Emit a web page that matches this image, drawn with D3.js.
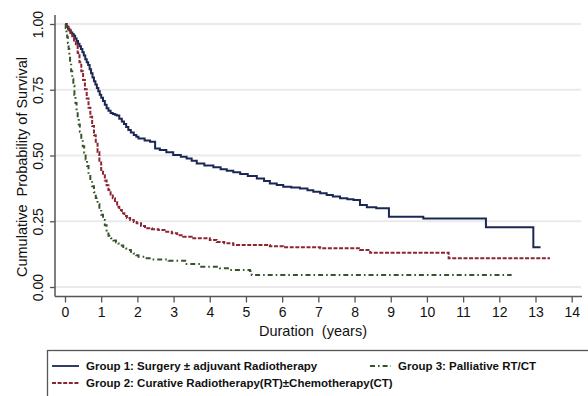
<!DOCTYPE html>
<html>
<head>
<meta charset="utf-8">
<script src="https://cdn.jsdelivr.net/npm/d3@7"></script>
<style>
  html, body { margin: 0; padding: 0; background: #fff; }
  svg { display: block; font-family: "Liberation Sans", Arial, sans-serif; }
</style>
</head>
<body>
<svg id="chart" width="588" height="396"></svg>
<script>
// ---- Data (Kaplan-Meier step points) ----
const group1Time = [0, 0.04, 0.08, 0.12, 0.16, 0.2, 0.24, 0.28, 0.32, 0.36, 0.4, 0.44, 0.48, 0.52, 0.56, 0.6, 0.64, 0.68, 0.72, 0.76, 0.8, 0.84, 0.88, 0.92, 0.96, 1.0, 1.05, 1.1, 1.15, 1.2, 1.26, 1.32, 1.38, 1.43, 1.5, 1.57, 1.63, 1.69, 1.75, 1.82, 1.9, 1.97, 2.03, 2.2, 2.35, 2.49, 2.62, 2.8, 2.99, 3.2, 3.36, 3.5, 3.64, 3.85, 4.1, 4.3, 4.47, 4.65, 4.84, 5.05, 5.3, 5.5, 5.66, 5.85, 6.03, 6.25, 6.49, 6.7, 6.86, 7.05, 7.23, 7.4, 7.6, 7.8, 7.97, 8.15, 8.34, 8.6, 8.95, 9.9, 11.63, 12.94, 13.14];
const group1Surv = [1, 0.99, 0.982, 0.975, 0.968, 0.962, 0.955, 0.945, 0.935, 0.925, 0.915, 0.905, 0.893, 0.88, 0.866, 0.855, 0.844, 0.828, 0.813, 0.797, 0.782, 0.77, 0.757, 0.744, 0.731, 0.72, 0.707, 0.693, 0.68, 0.67, 0.662, 0.658, 0.655, 0.652, 0.64, 0.629, 0.62, 0.608, 0.597, 0.587, 0.578, 0.571, 0.565, 0.557, 0.552, 0.527, 0.521, 0.512, 0.502, 0.495, 0.489, 0.48, 0.47, 0.462, 0.455, 0.448, 0.442, 0.436, 0.43, 0.422, 0.413, 0.403, 0.394, 0.388, 0.381, 0.378, 0.375, 0.368, 0.362, 0.356, 0.35, 0.344, 0.337, 0.334, 0.331, 0.312, 0.303, 0.299, 0.267, 0.26, 0.227, 0.151, 0.151];

const group2Time = [0, 0.05, 0.1, 0.15, 0.2, 0.25, 0.3, 0.35, 0.4, 0.45, 0.5, 0.55, 0.6, 0.65, 0.7, 0.75, 0.8, 0.85, 0.9, 0.95, 1.0, 1.05, 1.1, 1.15, 1.2, 1.26, 1.32, 1.38, 1.44, 1.5, 1.57, 1.64, 1.71, 1.8, 1.9, 1.98, 2.1, 2.21, 2.4, 2.58, 2.75, 2.95, 3.1, 3.27, 3.5, 4.0, 4.19, 4.4, 4.65, 5.66, 6.03, 7.05, 8.15, 8.43, 10.6, 13.4];
const group2Surv = [1, 0.99, 0.978, 0.966, 0.953, 0.937, 0.918, 0.89, 0.855, 0.82, 0.787, 0.752, 0.717, 0.682, 0.647, 0.612, 0.577, 0.545, 0.513, 0.48, 0.445, 0.425, 0.405, 0.387, 0.369, 0.352, 0.337, 0.322, 0.305, 0.293, 0.28, 0.27, 0.262, 0.255, 0.247, 0.242, 0.232, 0.223, 0.22, 0.217, 0.21, 0.204, 0.197, 0.191, 0.185, 0.179, 0.171, 0.166, 0.16, 0.155, 0.151, 0.147, 0.141, 0.13, 0.109, 0.109];

const group3Time = [0, 0.02, 0.04, 0.06, 0.08, 0.1, 0.12, 0.14, 0.17, 0.2, 0.23, 0.26, 0.29, 0.32, 0.35, 0.38, 0.41, 0.45, 0.49, 0.53, 0.57, 0.61, 0.65, 0.7, 0.75, 0.8, 0.85, 0.9, 0.95, 1.0, 1.05, 1.1, 1.15, 1.2, 1.27, 1.34, 1.41, 1.47, 1.54, 1.61, 1.68, 1.75, 1.82, 1.9, 1.97, 2.03, 2.2, 2.4, 2.86, 3.32, 3.73, 4.28, 4.56, 5.11, 5.16, 12.34];
const group3Surv = [1, 0.985, 0.968, 0.95, 0.928, 0.905, 0.88, 0.85, 0.82, 0.792, 0.765, 0.73, 0.7, 0.672, 0.645, 0.618, 0.59, 0.56, 0.535, 0.51, 0.485, 0.46, 0.428, 0.405, 0.383, 0.36, 0.338, 0.316, 0.295, 0.275, 0.255, 0.235, 0.215, 0.195, 0.185, 0.177, 0.17, 0.165, 0.158, 0.152, 0.146, 0.141, 0.134, 0.127, 0.121, 0.115, 0.109, 0.105, 0.1, 0.087, 0.077, 0.071, 0.065, 0.061, 0.046, 0.046];

const xTicks = [0, 1, 2, 3, 4, 5, 6, 7, 8, 9, 10, 11, 12, 13, 14];
const yTicks = [0, 0.25, 0.5, 0.75, 1];

const seriesNames = [
  "Group 1: Surgery \u00b1 adjuvant Radiotherapy",
  "Group 2: Curative Radiotherapy(RT)\u00b1Chemotherapy(CT)",
  "Group 3: Palliative RT/CT"
];

// ---- Build series ----
const series = [
  { name: seriesNames[0], time: group1Time, surv: group1Surv, color: "#1b2853", dash: null },
  { name: seriesNames[1], time: group2Time, surv: group2Surv, color: "#8b2630", dash: "4,1.6" },
  { name: seriesNames[2], time: group3Time, surv: group3Surv, color: "#36562a", dash: "5,3,1.6,3" }
];

const svg = d3.select("#chart");

const x = d3.scaleLinear().domain([0, 14]).range([65, 571.7]);
const y = d3.scaleLinear().domain([0, 1]).range([287, 24]);

const axisX0 = 55, axisY0 = 296.5;

// gridlines
svg.append("g").selectAll("line").data(yTicks).join("line")
  .attr("x1", axisX0).attr("x2", 581)
  .attr("y1", d => y(d)).attr("y2", d => y(d))
  .attr("stroke", "#eaeaea").attr("stroke-width", 2);

// curves
const line = d3.line()
  .x(d => x(d[0])).y(d => y(d[1]))
  .curve(d3.curveStepAfter);

series.forEach(s => {
  const pts = s.time.map((t, i) => [t, s.surv[i]]);
  svg.append("path")
    .attr("d", line(pts))
    .attr("fill", "none")
    .attr("stroke", s.color)
    .attr("stroke-width", 2)
    .attr("stroke-dasharray", s.dash)
    .attr("stroke-linejoin", "miter");
});

// y axis
const yAxis = d3.axisLeft(y).tickValues(yTicks).tickFormat(d3.format(".2f")).tickSize(5).tickPadding(0);
const gy = svg.append("g").attr("transform", `translate(${axisX0},0)`).call(yAxis);
gy.select(".domain").remove();
gy.append("line").attr("x1", 0).attr("x2", 0).attr("y1", 15).attr("y2", axisY0)
  .attr("stroke", "#555").attr("stroke-width", 1.5);
gy.selectAll(".tick line").attr("stroke", "#555").attr("stroke-width", 1.3);
gy.selectAll(".tick text")
  .attr("x", 0).attr("dy", null)
  .attr("transform", "translate(-12,0) rotate(-90)")
  .attr("text-anchor", "middle")
  .attr("fill", "#111")
  .style("font-size", "14px")
  .style("font-family", "'Liberation Sans', Arial, sans-serif");

// x axis
const xAxis = d3.axisBottom(x).tickValues(xTicks).tickFormat(d3.format("d")).tickSize(6).tickPadding(5);
const gx = svg.append("g").attr("transform", `translate(0,${axisY0})`).call(xAxis);
gx.select(".domain").remove();
gx.append("line").attr("x1", axisX0).attr("x2", 582).attr("y1", 0).attr("y2", 0)
  .attr("stroke", "#555").attr("stroke-width", 1.5);
gx.selectAll(".tick line").attr("stroke", "#555").attr("stroke-width", 1.3);
gx.selectAll(".tick text")
  .attr("fill", "#111")
  .style("font-size", "14px")
  .style("font-family", "'Liberation Sans', Arial, sans-serif");

// axis titles
svg.append("text")
  .attr("x", 313).attr("y", 336)
  .attr("text-anchor", "middle")
  .style("font-size", "14.5px").attr("fill", "#111")
  .attr("xml:space", "preserve")
  .text("Duration  (years)");

svg.append("text")
  .attr("transform", "translate(27,167) rotate(-90)")
  .attr("text-anchor", "middle")
  .style("font-size", "14.5px").attr("fill", "#111")
  .attr("xml:space", "preserve")
  .style("white-space", "pre")
  .text("Cumulative  Probability of Survival");

// legend box
svg.append("rect")
  .attr("x", 47.5).attr("y", 350.5).attr("width", 560).attr("height", 60)
  .attr("fill", "none").attr("stroke", "#555").attr("stroke-width", 1.3);

const legendPos = [
  { lx1: 52, lx2: 79, tx: 86, y: 366 },
  { lx1: 52, lx2: 79, tx: 86, y: 383 },
  { lx1: 370, lx2: 391, tx: 398, y: 366 }
];
series.forEach((s, i) => {
  const p = legendPos[i];
  svg.append("line")
    .attr("x1", p.lx1).attr("x2", p.lx2).attr("y1", p.y).attr("y2", p.y)
    .attr("stroke", s.color).attr("stroke-width", 1.8)
    .attr("stroke-dasharray", s.dash);
  svg.append("text")
    .attr("x", p.tx).attr("y", p.y + 4)
    .style("font-size", "11.5px").style("font-weight", "bold").attr("fill", "#111")
    .text(s.name);
});
</script>
</body>
</html>
